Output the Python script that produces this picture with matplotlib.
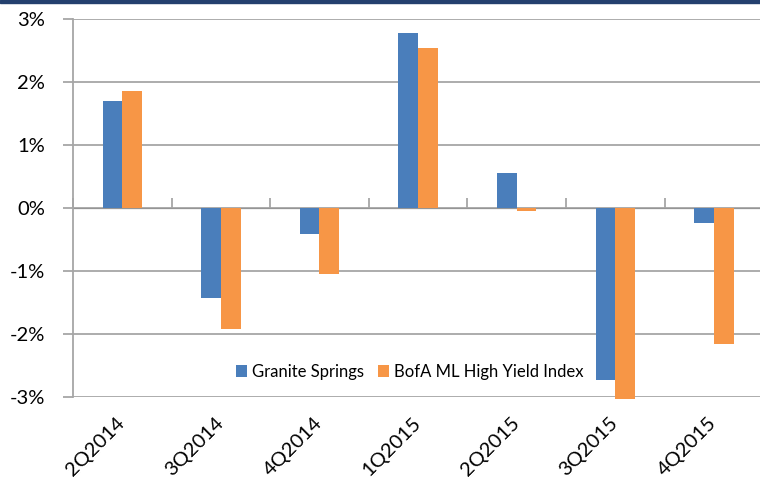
import numpy as np
import matplotlib.pyplot as plt
from matplotlib.patches import Rectangle
from matplotlib.ticker import FuncFormatter

quarters = ['2Q2014', '3Q2014', '4Q2014', '1Q2015', '2Q2015', '3Q2015', '4Q2015']
granite = [1.70, -1.43, -0.41, 2.78, 0.56, -2.73, -0.24]
bofa = [1.86, -1.92, -1.05, 2.54, -0.05, -3.03, -2.16]

plt.rcParams['font.family'] = ['Lato', 'DejaVu Sans']

grey = '#a6a6a6'
fig = plt.figure(figsize=(7.6, 4.87), dpi=100)
ax = fig.add_axes([73/760, 90/487, 687/760, 378/487])

x = np.arange(len(quarters))
w = 0.2
ax.bar(x - w/2, granite, w, color='#4a7ebb', label='Granite Springs', zorder=3, clip_on=False)
ax.bar(x + w/2, bofa, w, color='#f79646', label='BofA ML High Yield Index', zorder=3, clip_on=False)

ax.set_ylim(-3, 3)
ax.set_xlim(-0.5, -0.5 + 687/98.6)
ax.set_yticks(range(-3, 4))
ax.yaxis.set_major_formatter(FuncFormatter(lambda v, p: f'{v:.0f}%'))
ax.grid(axis='y', color=grey, linewidth=1.3, zorder=0)
ax.tick_params(axis='y', length=7, width=1.3, color=grey, labelsize=14.5, pad=13)

ax.set_xticks(x)
ax.set_xticklabels(quarters, rotation=45, ha='right', va='center', rotation_mode='anchor')
ax.tick_params(axis='x', length=0, labelsize=14.5, pad=17)

for s in ['top', 'right', 'bottom']:
    ax.spines[s].set_visible(False)
ax.spines['left'].set_color(grey)
ax.spines['left'].set_linewidth(1.3)

# category axis crossing at 0%
sec = ax.secondary_xaxis(0.5)
sec.set_xticks(np.arange(-0.5, len(quarters), 1.0))
sec.set_xticklabels([])
sec.tick_params(length=7, width=1.3, color=grey)
sec.spines['bottom'].set_color(grey)
sec.spines['bottom'].set_linewidth(1.3)

ax.legend(loc='center left', bbox_to_anchor=(0.215, 0.066), ncol=2, frameon=False,
          fontsize=12, handlelength=0.7, handleheight=0.7, handletextpad=0.3, columnspacing=0.8)

fig.patches.append(Rectangle((0, 1 - 3/487), 1, 3/487, transform=fig.transFigure,
                             color='#24406e', zorder=5))

fig.savefig('out.png', dpi=100)
